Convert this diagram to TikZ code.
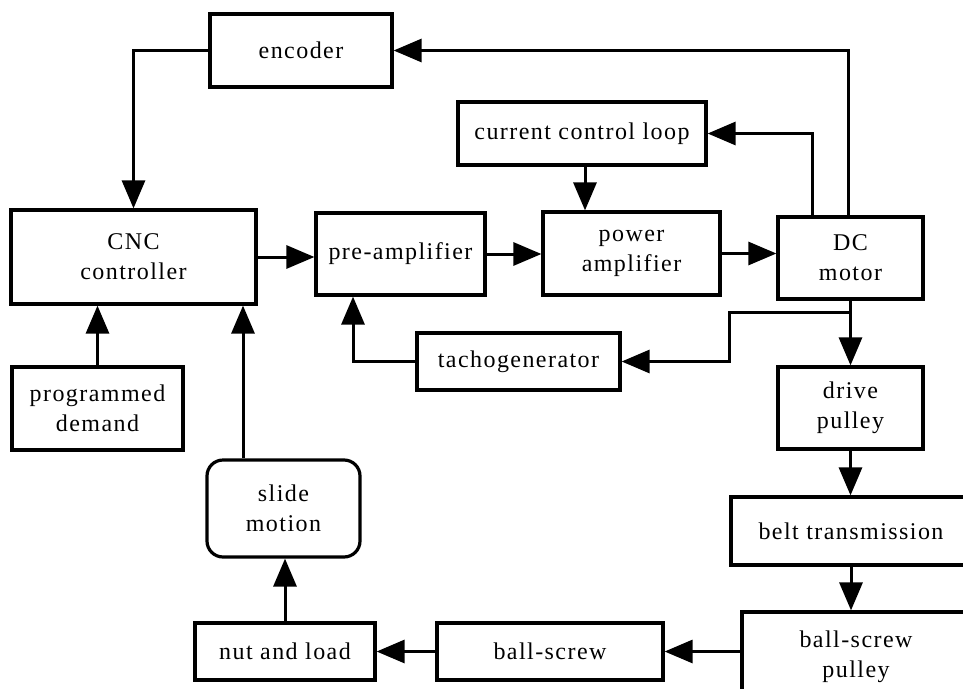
\documentclass[tikz,border=0pt]{standalone}
\usepackage{fontspec}
\setmainfont{Liberation Serif}[LetterSpace=6]
\usetikzlibrary{arrows.meta}
\begin{document}
\begin{tikzpicture}[x=1pt,y=-1pt,
  block/.style={draw, line width=3.2pt, inner sep=0pt, align=center,
    font=\fontsize{24}{30}\selectfont},
  roundblock/.style={block, rounded corners=16pt},
  arr/.style={line width=3pt, -{Triangle[length=28pt,width=23pt]}}]
\clip (0,0) rectangle (963,688);
\useasboundingbox (0,0) rectangle (963,688);
\fill[white] (0,0) rectangle (963,688);

% blocks
\node[block, minimum width=182, minimum height=73] (enc) at (301,50.5) {encoder};
\node[block, minimum width=245, minimum height=94] (cnc) at (133.5,257) {CNC\\controller};
\node[block, minimum width=169, minimum height=82] (pre) at (400.5,254) {pre-amplifier};
\node[block, minimum width=177, minimum height=83] (pa) at (631.5,253.5) {power\\amplifier};
\node[block, minimum width=145, minimum height=82] (dc) at (850.5,258) {DC\\motor};
\node[block, minimum width=248, minimum height=63] (ccl) at (582,133.5) {current control loop};
\node[block, minimum width=203, minimum height=57] (tacho) at (518.5,361.5) {tachogenerator};
\node[block, minimum width=171, minimum height=83] (pd) at (97.5,408.5) {programmed\\demand};
\node[roundblock, minimum width=153, minimum height=97] (sm) at (283.5,508.5) {slide\\motion};
\node[block, minimum width=180, minimum height=57] (nl) at (285,651.5) {nut and load};
\node[block, minimum width=226, minimum height=57] (bs) at (550,651.5) {ball-screw};
\node[block, minimum width=145, minimum height=82] (drive) at (850.5,408) {drive\\pulley};
\node[block, minimum width=240, minimum height=68] (belt) at (851,531) {belt transmission};
\node[block, minimum width=228, minimum height=90] (bsp) at (856,657) {ball-screw\\pulley};

% branch point below the motor
\coordinate (br) at (850.5,312);

% connectors
\draw[arr] ([xshift=-2.5]dc.north) |- (enc.east);
\draw[arr] ([xshift=-38.5]dc.north) |- (ccl.east);
\draw[arr] ([xshift=3]ccl.south) -- ([xshift=3]ccl.south |- pa.north);
\draw[arr] (enc.west) -| (cnc.north);
\draw[arr] (cnc.east) -- (cnc.east -| pre.west);
\draw[arr] (pre.east) -- (pre.east -| pa.west);
\draw[arr] (pa.east) -- (pa.east -| dc.west);
\draw[arr] (dc.south) -- (drive.north);
\draw[arr] (br) -| ([xshift=108]tacho.east) -- (tacho.east);
\draw[arr] (tacho.west) -| ([xshift=-47.5]pre.south);
\draw[arr] (pd.north) -- (pd.north |- cnc.south);
\draw[arr] ([xshift=-40.5]sm.north) -- ([xshift=-40.5]sm.north |- cnc.south);
\draw[arr] (nl.north) -- (nl.north |- sm.south);
\draw[arr] (bs.west) -- (bs.west -| nl.east);
\draw[arr] (bsp.west |- bs.east) -- (bs.east);
\draw[arr] (drive.south) -- (drive.south |- belt.north);
\draw[arr] (belt.south) -- (belt.south |- bsp.north);
\end{tikzpicture}
\end{document}
